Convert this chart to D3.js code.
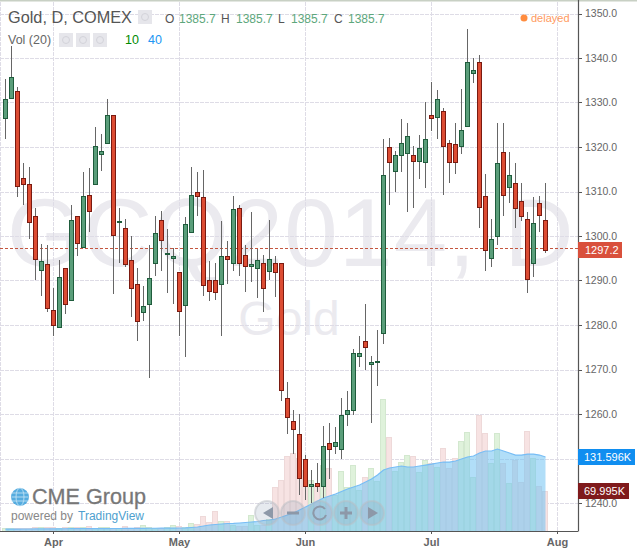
<!DOCTYPE html>
<html>
<head>
<meta charset="utf-8">
<script src="https://cdn.jsdelivr.net/npm/d3@7"></script>
<style>
html,body{margin:0;padding:0;background:#fff;overflow:hidden}
svg{display:block}
text{font-family:"Liberation Sans",Arial,sans-serif}
</style>
</head>
<body>
<svg id="chart" width="637" height="552"></svg>
<script>
const opens=[1326.2,1330.7,1332.5,1313.1,1311.6,1304.6,1292.2,1293.8,1283.3,1279.4,
1292.7,1285.3,1304.6,1297.4,1309.3,1311.4,1318.1,1320.6,1327.1,1303.2,
1301.9,1294.7,1289.3,1282.8,1284.4,1293.6,1303.5,1296.0,1294.9,1291.8,
1284.2,1300.6,1309.8,1308.7,1290.0,1290.0,1289.1,1295.6,1293.8,1306.4,
1295.8,1293.1,1292.5,1294.0,1291.8,1294.0,1294.0,1263.7,1258.5,1255.4,
1250.0,1243.5,1244.4,1243.7,1253.4,1252.5,1252.0,1259.7,1260.6,1272.7,
1276.5,1271.1,1271.8,1277.9,1319.9,1314.3,1317.9,1318.5,1318.3,1316.7,
1316.3,1327.3,1326.6,1328.2,1321.0,1320.6,1319.9,1324.4,1336.3,1339.2,
1308.9,1294.9,1299.7,1318.8,1310.7,1312.0,1307.8,1303.9,1293.8,1307.5,
1303.5];
const highs=[1335.2,1342.8,1333.4,1316.5,1315.6,1306.2,1298.3,1297.9,1288.4,1294.7,
1292.7,1306.9,1304.6,1314.3,1315.2,1324.4,1323.0,1330.7,1327.3,1306.4,
1303.9,1299.9,1292.7,1288.7,1297.9,1304.6,1305.7,1301.5,1297.2,1291.8,
1304.2,1315.4,1314.3,1314.9,1294.3,1294.0,1303.3,1298.8,1309.1,1306.9,
1297.9,1305.5,1297.0,1295.8,1303.7,1295.6,1294.0,1267.1,1261.0,1260.1,
1250.7,1247.5,1249.1,1257.4,1257.9,1257.0,1263.5,1265.1,1274.7,1277.6,
1284.8,1273.1,1278.8,1321.7,1322.1,1319.0,1326.4,1325.3,1320.3,1322.8,
1330.0,1334.7,1332.9,1328.7,1321.5,1325.5,1333.1,1346.6,1340.1,1340.6,
1314.0,1303.9,1325.5,1325.3,1318.8,1316.5,1311.8,1305.3,1308.7,1309.1,
1311.8];
const lows=[1321.7,1330.7,1308.7,1306.9,1299.4,1290.2,1286.6,1283.0,1277.6,1279.4,
1282.4,1285.3,1295.6,1297.4,1301.0,1311.4,1314.5,1320.6,1286.9,1294.0,
1293.1,1281.7,1276.5,1281.0,1268.2,1291.1,1292.2,1287.3,1284.8,1277.6,
1272.7,1300.6,1304.4,1286.6,1285.3,1285.7,1277.6,1289.3,1292.2,1291.1,
1287.5,1289.6,1286.0,1283.0,1290.2,1286.4,1263.0,1255.6,1251.1,1241.7,
1240.6,1239.9,1242.4,1241.2,1245.5,1251.1,1249.8,1257.4,1259.7,1270.5,
1270.0,1257.9,1266.2,1275.8,1306.9,1310.0,1314.3,1305.3,1306.4,1312.9,
1310.7,1323.7,1321.9,1309.3,1311.8,1314.0,1318.5,1324.4,1334.3,1301.9,
1292.2,1293.1,1297.9,1304.6,1307.5,1301.9,1303.3,1287.1,1290.7,1300.8,
1296.1];
const closes=[1330.7,1335.8,1311.1,1311.4,1303.0,1294.5,1294.3,1283.5,1279.7,1290.7,
1284.4,1303.5,1298.3,1309.1,1305.5,1320.3,1319.0,1327.3,1299.9,1303.4,
1293.4,1288.2,1280.6,1284.2,1290.5,1300.6,1298.8,1296.2,1295.6,1283.0,
1302.8,1309.3,1308.7,1288.7,1287.5,1287.3,1295.6,1294.5,1306.0,1293.6,
1293.1,1293.6,1294.5,1288.0,1294.9,1291.6,1265.1,1259.0,1256.5,1245.5,
1243.5,1244.2,1243.7,1252.9,1252.0,1253.6,1259.7,1260.8,1273.6,1273.8,
1274.9,1271.6,1272.0,1313.8,1316.3,1318.1,1321.0,1322.4,1316.7,1319.7,
1321.7,1326.2,1330.7,1320.1,1316.5,1316.3,1323.9,1339.0,1337.2,1306.4,
1296.7,1299.4,1316.5,1308.9,1313.6,1306.0,1304.2,1290.2,1303.0,1304.4,
1296.7];
const volumes=[3.6,3.6,3.6,3.6,3.6,5.4,5.4,5.4,5.4,3.6,
5.4,5.4,5.4,5.4,7.2,3.6,5.4,5.4,3.6,3.6,
7.2,3.6,5.4,10.7,5.4,3.6,3.6,5.4,9.0,7.2,
5.4,14.3,12.5,25.1,16.1,35.8,17.9,17.9,10.7,7.2,
7.2,26.9,10.7,10.7,19.7,77.9,90.4,133.4,138.7,129.8,
108.3,90.4,81.4,117.2,111.9,63.5,106.5,77.9,117.2,72.5,
95.8,111.9,89.5,235.4,167.4,107.4,122.6,135.1,133.4,104.7,
126.2,120.8,113.7,147.7,111.9,129.8,160.2,176.3,95.8,206.7,
174.5,120.8,174.5,120.8,85.0,126.2,86.8,178.1,129.8,79.7,
69.995];
const volAverage=[2.5,2.6,2.6,2.7,2.7,2.8,2.9,2.9,3.0,3.0,
3.1,3.2,3.2,3.3,3.4,3.4,3.5,3.5,3.6,3.6,
3.7,3.7,3.8,3.9,4.0,4.0,4.1,4.2,4.3,4.5,
4.6,5.4,6.3,8.1,9.8,10.7,11.6,12.5,12.6,13.4,
14.3,15.2,16.1,17.9,18.8,20.6,24.2,27.7,31.3,36.7,
42.1,47.4,52.8,58.2,61.8,65.3,69.8,74.3,77.9,81.4,
86.8,92.2,99.3,108.3,111.9,113.7,115.5,113.7,113.7,115.5,
117.2,119.0,120.8,122.6,122.6,124.4,128.0,131.6,133.4,138.7,
142.3,142.3,145.9,142.3,138.7,135.1,135.1,136.9,136.9,135.1,
131.596];
const monthIndex=[8,29,50,71,92];
const monthLabels=["Apr","May","Jun","Jul","Aug"];
const priceGrid=[1240,1250,1260,1270,1280,1290,1300,1310,1320,1330,1340,1350];
const priceTicks=[1240,1260,1270,1280,1290,1300,1310,1320,1330,1340,1350];
const lastPrice=1297.2;
const lastPriceLabel="1297.2";
const avgVolLabel="131.596K";
const lastVolLabel="69.995K";
const ohlcLabels=["O","H","L","C"];
const ohlcValue="1385.7";

const PW=578,PB=531;
const UP="#5a9e7a",UPB="#1f5c3c",DN="#dc4c33",DNB="#7a1a10";
const svg=d3.select("#chart");
const x=d3.scaleLinear().domain([0,1]).range([5.5,11.5]);
const y=d3.scaleLinear().domain([1240,1350]).range([503,13.5]);
const v=d3.scaleLinear().domain([0,131.596]).range([530.5,457]);
const snap=p=>Math.round(p)+.5;

svg.append("rect").attr("width",637).attr("height",552).attr("fill","#fff");
svg.append("rect").attr("width",637).attr("height",1.5).attr("fill","#c8d0c4");

// watermark
const wm=svg.append("g").attr("text-anchor","middle");
wm.append("text").attr("x",291).attr("y",266).attr("font-size",96).attr("letter-spacing","1.3px").attr("fill","#ebeaef").text("GCQ2014, D");
wm.append("text").attr("x",289).attr("y",335).attr("font-size",48).attr("fill","#ebeaef").text("Gold");

// grid
const grid=svg.append("g").attr("stroke","#dedce6").attr("stroke-dasharray","4,1").attr("shape-rendering","crispEdges");
grid.selectAll(".h").data(priceGrid).join("line").attr("x1",0).attr("x2",PW)
  .attr("y1",d=>snap(y(d))).attr("y2",d=>snap(y(d)));
grid.selectAll(".v").data(monthIndex).join("line").attr("y1",2).attr("y2",PB)
  .attr("x1",d=>x(d)).attr("x2",d=>x(d));
grid.append("line").attr("x1",.5).attr("x2",.5).attr("y1",2).attr("y2",PB);

// volume
const idx=d3.range(opens.length);
svg.append("g").attr("shape-rendering","crispEdges").selectAll("rect").data(idx).join("rect")
  .attr("x",i=>x(i)-3).attr("width",5)
  .attr("y",i=>snap(v(volumes[i])))
  .attr("height",i=>Math.max(0,PB-snap(v(volumes[i]))))
  .attr("fill",i=>closes[i]>=opens[i]?"#dff2db":"#f7e3e3")
  .attr("stroke",i=>closes[i]>=opens[i]?"#d3e8cf":"#eed9d9");
svg.append("path").datum(idx)
  .attr("d",d3.area().x(i=>x(i)).y0(PB).y1(i=>v(volAverage[i])))
  .attr("fill","#71c3f3").attr("fill-opacity",.55);
svg.append("path").datum(idx)
  .attr("d",d3.line().x(i=>x(i)).y(i=>v(volAverage[i])))
  .attr("fill","none").attr("stroke","#77bdf5").attr("stroke-width",1.2);

// last price line
svg.append("line").attr("x1",0).attr("x2",PW).attr("y1",snap(y(lastPrice))).attr("y2",snap(y(lastPrice)))
  .attr("stroke","#c4563f").attr("stroke-dasharray","3,2").attr("shape-rendering","crispEdges");

// candles
const candles=svg.append("g").attr("shape-rendering","crispEdges");
candles.selectAll("line").data(idx).join("line")
  .attr("x1",i=>x(i)).attr("x2",i=>x(i))
  .attr("y1",i=>Math.round(y(highs[i]))).attr("y2",i=>Math.round(y(lows[i])))
  .attr("stroke","#666");
candles.selectAll("rect").data(idx).join("rect")
  .attr("x",i=>x(i)-2).attr("width",4)
  .attr("y",i=>snap(y(Math.max(opens[i],closes[i]))))
  .attr("height",i=>Math.max(1,Math.round(y(Math.min(opens[i],closes[i])))-Math.round(y(Math.max(opens[i],closes[i])))-1))
  .attr("fill",i=>closes[i]>=opens[i]?UP:DN)
  .attr("stroke",i=>closes[i]>=opens[i]?UPB:DNB);

// axes
const yAxis=d3.axisRight(y).tickValues(priceTicks).tickFormat(d3.format(".1f")).tickSize(4).tickPadding(3).offset(0);
const yg=svg.append("g").attr("transform",`translate(${PW},0)`).call(yAxis);
yg.select(".domain").attr("d",`M0.5,0V${PB+.5}`).attr("stroke","#555").attr("stroke-width",1.2);
yg.selectAll("line").attr("stroke","#555").attr("y1",d=>snap(y(d))).attr("y2",d=>snap(y(d))).attr("shape-rendering","crispEdges");
yg.selectAll(".tick").attr("transform",null);
yg.selectAll("text").attr("y",d=>y(d)).attr("font-size",10.5).attr("font-family",'"Liberation Sans",Arial,sans-serif').attr("fill","#666").attr("dy",".35em");

const xAxis=d3.axisBottom(x).tickValues(monthIndex).tickFormat((d,i)=>monthLabels[i]).tickSize(3).tickPadding(4).offset(0);
const xg=svg.append("g").attr("transform",`translate(0,${PB})`).call(xAxis);
xg.select(".domain").attr("d",`M0,0.5H${PW}`).attr("stroke","#555").attr("stroke-width",1.2);
xg.selectAll("line").attr("stroke","#555");
xg.selectAll("text").attr("font-size",11).attr("font-weight","bold").attr("font-family",'"Liberation Sans",Arial,sans-serif').attr("fill","#666");

// price / volume flags
const flag=(yc,x2,fill,label,tx)=>{
  svg.append("rect").attr("x",PW).attr("y",yc-8).attr("width",x2-PW).attr("height",16).attr("fill",fill);
  svg.append("text").attr("x",tx).attr("y",yc+4).attr("font-size",11).attr("fill","#fff").text(label);
};
flag(250,622,"#d9503c",lastPriceLabel,585);
flag(457,635,"#108ef0",avgVolLabel,584);
flag(491,629,"#7f1a1c",lastVolLabel,584);

// header
const t=(tx,ty,s,size,fill)=>svg.append("text").attr("x",tx).attr("y",ty).attr("font-size",size).attr("fill",fill).text(s);
t(8,23,"Gold, D, COMEX",16.3,"#555");
t(8,44,"Vol (20)",12.5,"#666");
t(125,44,"10",12.5,"#008a00");
t(148,44,"40",12.5,"#2196f3");
const ohlcX=[165,221,278,334];
const valX=[179,236,291,348];
ohlcLabels.forEach((s,i)=>{t(ohlcX[i],23,s,12,"#555");t(valX[i],23,ohlcValue,12,"#5da77c");});
svg.append("circle").attr("cx",524).attr("cy",18).attr("r",3.5).attr("fill","#ff8c3f");
t(531,22,"delayed",11,"#ff9a5e");

const icon=(ix,iy)=>{
  svg.append("rect").attr("x",ix).attr("y",iy).attr("width",14).attr("height",14).attr("fill","#e6e6eb");
  svg.append("circle").attr("cx",ix+7).attr("cy",iy+7).attr("r",3.5).attr("fill","none").attr("stroke","#d3d3da");
};
icon(138,10);icon(59,33);icon(76,33);icon(93,33);

// logo
const logo=svg.append("g");
logo.append("circle").attr("cx",20).attr("cy",497).attr("r",9).attr("fill","#55acdf");
logo.append("ellipse").attr("cx",20).attr("cy",497).attr("rx",4).attr("ry",9).attr("fill","none").attr("stroke","#c9e6f6").attr("stroke-width",.8);
[-4,0,4].forEach(d=>logo.append("line").attr("x1",11.5).attr("x2",28.5).attr("y1",497+d).attr("y2",497+d).attr("stroke","#c9e6f6").attr("stroke-width",.8));
logo.append("text").attr("x",32).attr("y",504).attr("font-size",21.6).attr("fill","#777").attr("stroke","#777").attr("stroke-width",.3).text("CME Group");
t(11,519.5,"powered by",12,"#888");
t(78,519.5,"TradingView",12,"#4e9fcf");

// zoom buttons
const bx=[267,293,320,346,372];
const btn=svg.append("g");
btn.selectAll("circle").data(bx).join("circle").attr("cx",d=>d).attr("cy",513).attr("r",12)
  .attr("fill","#8f9fb5").attr("fill-opacity",.22).attr("stroke","#b9bdc4").attr("stroke-opacity",.5).attr("stroke-width",2);
const G="#8d98a8";
btn.append("path").attr("d","M273,507V519L263,513Z").attr("fill",G);
btn.append("path").attr("d","M287,513H299").attr("stroke",G).attr("stroke-width",3);
btn.append("path").attr("d","M325,509A6.5,6.5 0 1 0 326,515").attr("fill","none").attr("stroke",G).attr("stroke-width",2);
btn.append("path").attr("d","M346,507V519M340,513H352").attr("stroke",G).attr("stroke-width",3);
btn.append("path").attr("d","M368,507V519L378,513Z").attr("fill",G);
</script>
</body>
</html>
